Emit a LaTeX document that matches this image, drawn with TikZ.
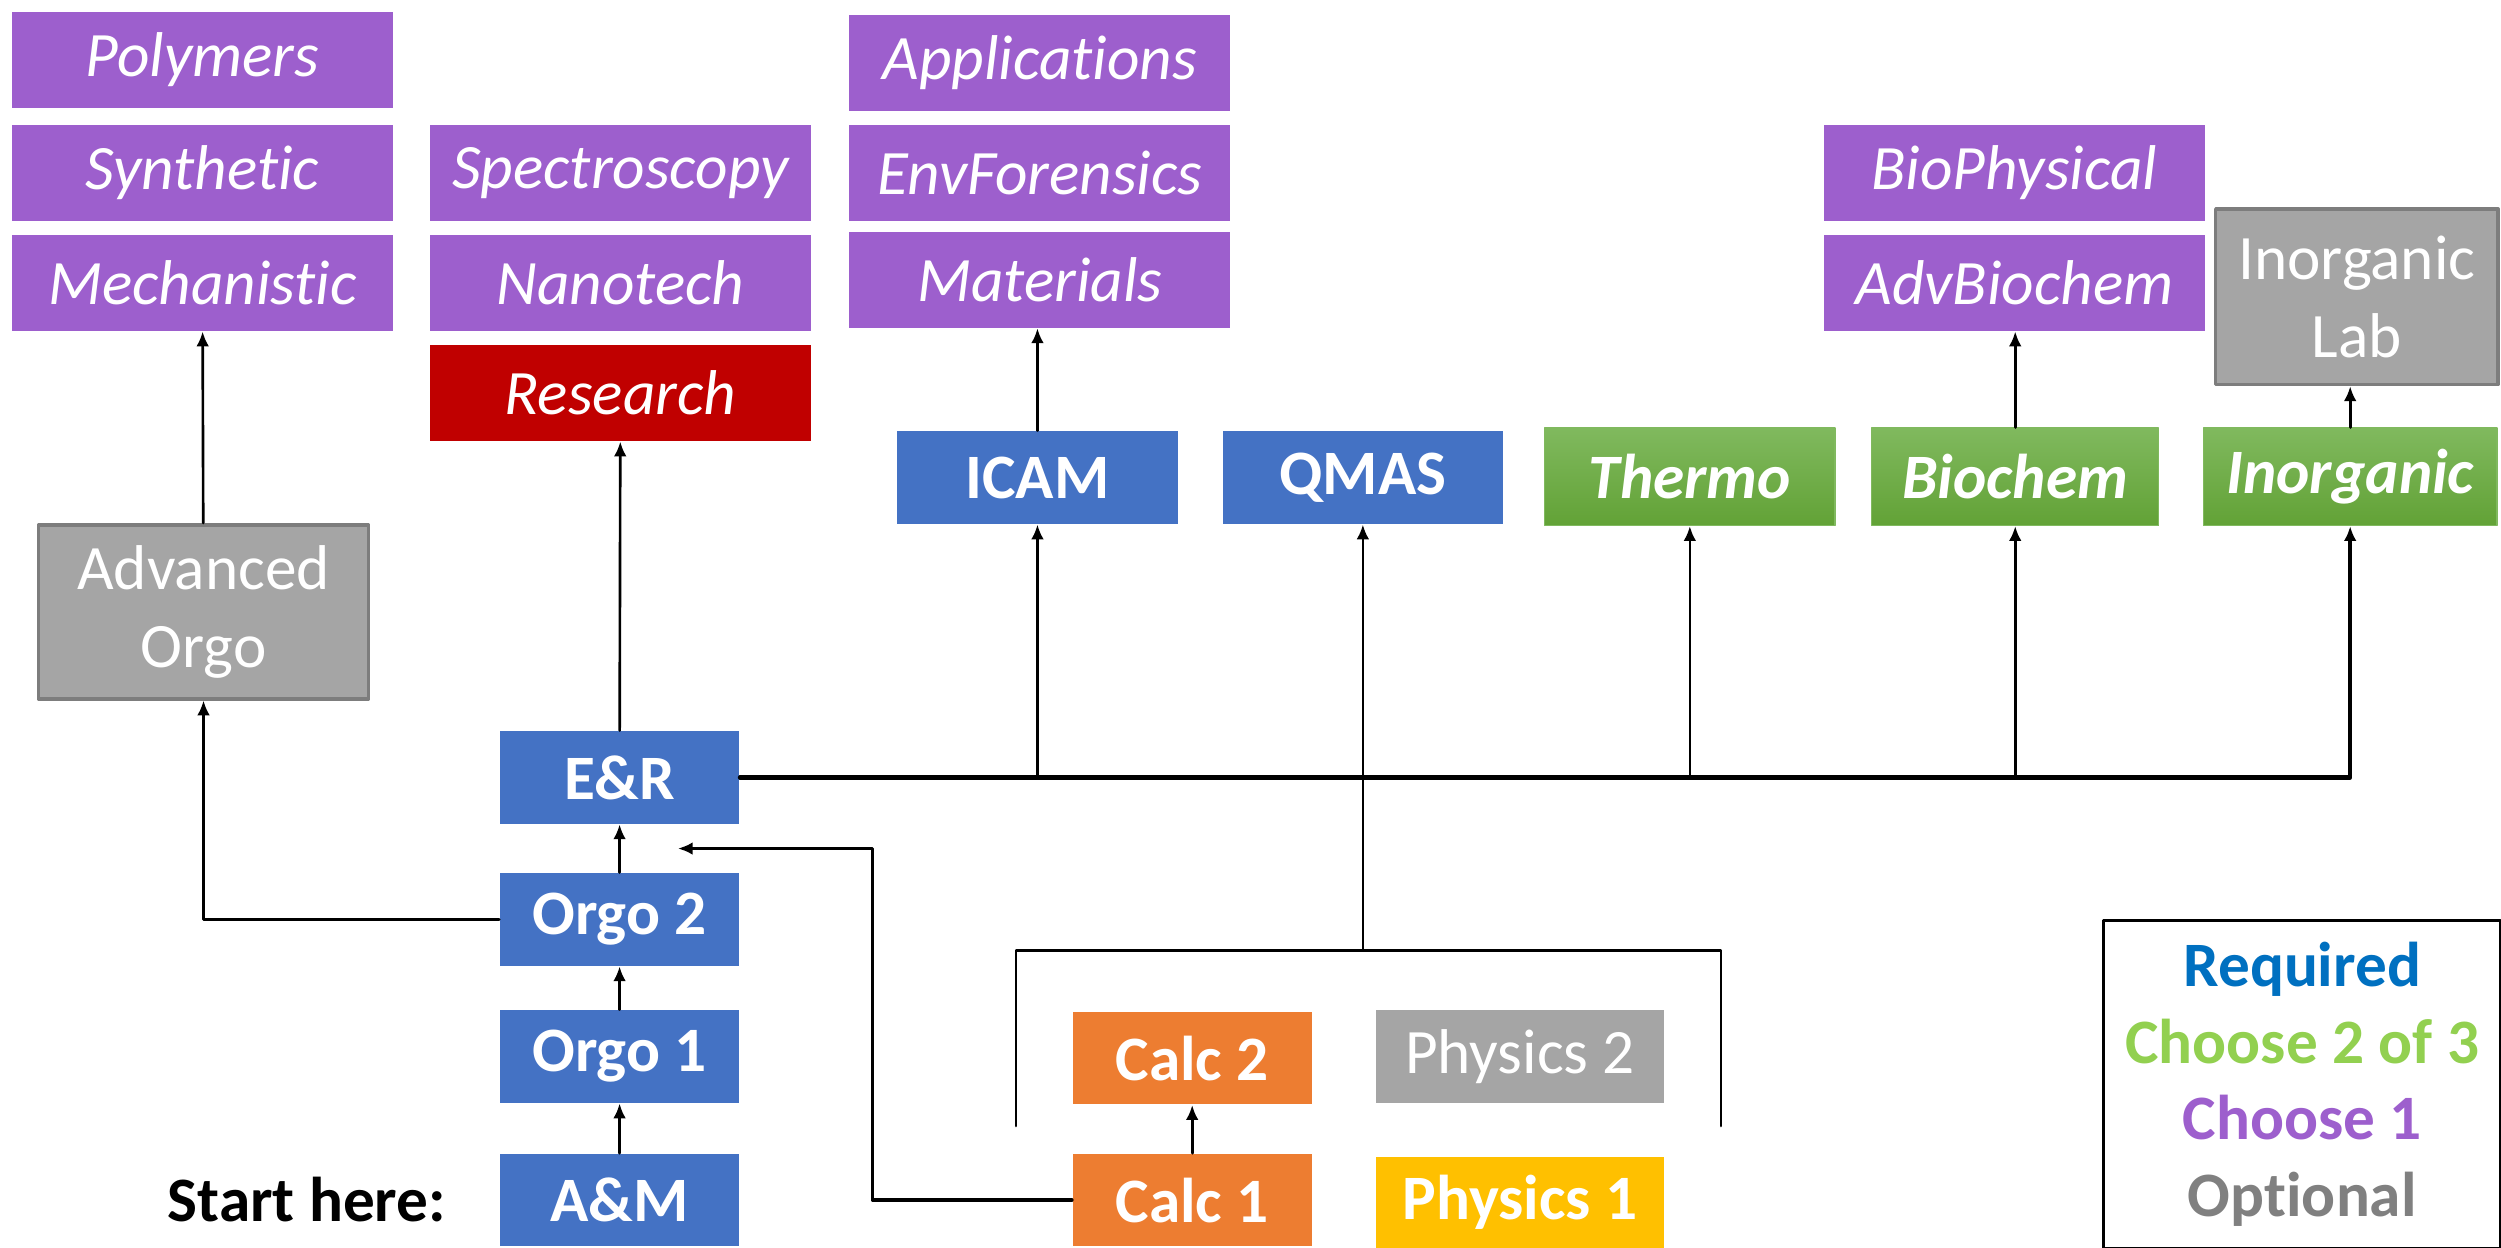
\documentclass[tikz,border=0pt]{standalone}
\usepackage{fontspec}
\setmainfont{Carlito}[Ligatures=NoCommon]
\usepackage{tikz}
\usetikzlibrary{arrows.meta, positioning, calc}
\definecolor{ReqBlue}{RGB}{68,114,196}
\definecolor{PickPurple}{RGB}{157,95,205}
\definecolor{ResRed}{RGB}{192,0,0}
\definecolor{OptGray}{RGB}{165,165,165}
\definecolor{OptEdge}{RGB}{125,125,125}
\definecolor{CalcOrange}{RGB}{237,125,49}
\definecolor{PhysYellow}{RGB}{255,192,0}
\definecolor{GreenTop}{RGB}{128,185,94}
\definecolor{GreenBot}{RGB}{98,162,54}
\definecolor{KeyBlue}{RGB}{0,112,192}
\definecolor{KeyGreen}{RGB}{146,208,80}
\definecolor{KeyGray}{RGB}{128,128,128}
\newlength\dpx
\setlength\dpx{0.1595mm}
\newcommand\boxfont{\fontsize{18}{22}\selectfont}
\tikzset{every path/.style={line cap=round, line join=round}, >={Latex[length=4.2pt, width=3.6pt]}}
\tikzset{
    course/.style={anchor=north west, inner sep=0pt, text=white, align=center, font=\boxfont},
    pick/.style={course, fill=PickPurple, minimum width=239\dpx, minimum height=60\dpx, font=\boxfont\itshape},
    req/.style={course, fill=ReqBlue, minimum width=150\dpx, minimum height=58\dpx, font=\boxfont\bfseries},
    calc/.style={course, fill=CalcOrange, minimum width=150\dpx, minimum height=58\dpx, font=\boxfont\bfseries},
    opt/.style={course, fill=OptGray, draw=OptEdge, line width=1pt},
    choose/.style={course, top color=GreenTop, bottom color=GreenBot, draw=GreenTop, minimum height=61\dpx, font=\boxfont\bfseries\itshape},
    link/.style={->, line width=0.75pt},
    trunk/.style={line width=1.2pt}
}

\begin{document}
\begin{tikzpicture}[x=0.1595mm, y=-0.1595mm]
    \useasboundingbox (0,0) rectangle (1568,782);

    % electives (choose 1)
    \node [pick] (polymers) at (7,7) {Polymers};
    \node [pick] (synthetic) at (7,78) {Synthetic};
    \node [pick] (mech) at (7,147) {Mechanistic};
    \node [pick] (spectro) at (269,78) {Spectroscopy};
    \node [pick] (nano) at (269,147) {Nanotech};
    \node [pick, fill=ResRed] (research) at (269,216) {Research};
    \node [pick] (apps) at (532,9) {Applications};
    \node [pick] (envfor) at (532,78) {EnvForensics};
    \node [pick] (materials) at (532,145) {Materials};
    \node [pick] (biophys) at (1143,78) {BioPhysical};
    \node [pick] (advbio) at (1143,147) {AdvBiochem};

    % optional
    \node [opt, minimum width=207\dpx, minimum height=109\dpx] (advorgo) at (23,328) {Advanced\\Orgo};
    \node [opt, minimum width=177\dpx, minimum height=110\dpx] (inlab) at (1388,130) {Inorganic\\Lab};

    % upper level
    \node [req, minimum width=176\dpx] (icam) at (562,270) {ICAM};
    \node [req, minimum width=176\dpx] (qmas) at (766,270) {QMAS};
    \node [choose, minimum width=182\dpx] (thermo) at (968,268) {Thermo};
    \node [choose, minimum width=180\dpx] (biochem) at (1173,268) {Biochem};
    \node [choose, minimum width=184\dpx] (inorg) at (1381,268) {Inorganic};

    % core sequence
    \node [req] (er) at (313,458) {E\&R};
    \node [req] (orgo2) at (313,547) {Orgo 2};
    \node [req] (orgo1) at (313,633) {Orgo 1};
    \node [req] (am) at (313,723) {A\&M};
    \node [anchor=east, inner sep=0pt, font=\boxfont\bfseries] (start) at (280,752) {Start here:};

    % math and physics
    \node [calc] (calc2) at (672,634) {Calc 2};
    \node [calc] (calc1) at (672,723) {Calc 1};
    \node [course, fill=OptGray, minimum width=181\dpx, minimum height=58\dpx] (phys2) at (862,633) {Physics 2};
    \node [course, fill=PhysYellow, minimum width=181\dpx, minimum height=57\dpx, font=\boxfont\bfseries] (phys1) at (862,725) {Physics 1};

    % key
    \node [anchor=north west, draw=black, line width=0.8pt, minimum width=249\dpx, minimum height=206\dpx,
        align=center, font=\fontsize{18}{21.8}\selectfont\bfseries] (key) at (1318,576)
        {\textcolor{KeyBlue}{Required}\\ \textcolor{KeyGreen}{Choose 2 of 3}\\ \textcolor{PickPurple}{Choose 1}\\ \textcolor{KeyGray}{Optional}};

    % connectors
    \draw [link] (am) -- (orgo1);
    \draw [link] (orgo1) -- (orgo2);
    \draw [link] (orgo2) -- (er);
    \draw [link] (er) -- (research);
    \draw [link] (orgo2.west) -| (advorgo.south);
    \draw [link] (advorgo) -- (mech);
    \draw [trunk, ->] (er.east) -| (inorg.south);
    \draw [link] (icam.south |- er.east) -- (icam.south);
    \draw [link] (thermo.south |- er.east) -- (thermo.south);
    \draw [link] (biochem.south |- er.east) -- (biochem.south);
    \draw [link] (icam) -- (icam.north |- materials.south);
    \draw [link] (biochem) -- (biochem.north |- advbio.south);
    \draw [link] (inorg) -- (inorg.north |- inlab.south);

    \coordinate (brl) at (637,706);
    \coordinate (brr) at (1079,706);
    \coordinate (brtop) at (qmas.south |- 0,596);
    \draw [line width=0.7pt] (brl) |- (brtop) -| (brr);
    \draw [link] (brtop) -- (qmas.south);

    \coordinate (calcturn) at (547,532);
    \coordinate (erin) at (425,532);
    \draw [link, line width=1pt] (calc1.west) -| (calcturn) -- (erin);
    \draw [link] (calc1) -- (calc2);
\end{tikzpicture}
\end{document}
